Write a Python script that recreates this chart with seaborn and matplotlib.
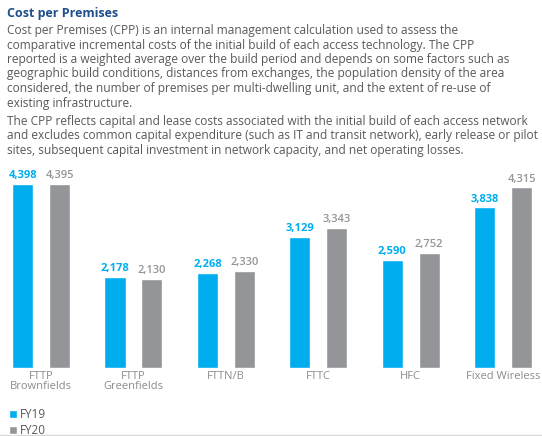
import matplotlib
matplotlib.use("Agg")
import matplotlib.pyplot as plt
from matplotlib.lines import Line2D
import seaborn as sns
import pandas as pd

# chart data
technologies = ["FTTP\nBrownfields", "FTTP\nGreenfields", "FTTN/B", "FTTC", "HFC", "Fixed Wireless"]
fy19 = [4398, 2178, 2268, 3129, 2590, 3838]
fy20 = [4395, 2130, 2330, 3343, 2752, 4315]
years = ["FY19", "FY20"]

title = "Cost per Premises"
para1 = ("Cost per Premises (CPP) is an internal management calculation used to assess the\n"
         "comparative incremental costs of the initial build of each access technology. The CPP\n"
         "reported is a weighted average over the build period and depends on some factors such as\n"
         "geographic build conditions, distances from exchanges, the population density of the area\n"
         "considered, the number of premises per multi-dwelling unit, and the extent of re-use of\n"
         "existing infrastructure.")
para2 = ("The CPP reflects capital and lease costs associated with the initial build of each access network\n"
         "and excludes common capital expenditure (such as IT and transit network), early release or pilot\n"
         "sites, subsequent capital investment in network capacity, and net operating losses.")

BLUE = "#00AEEF"
GREY = "#939598"
TEXT = "#58595b"

df = pd.DataFrame({
    "tech": technologies * 2,
    "year": [years[0]] * len(fy19) + [years[1]] * len(fy20),
    "cpp": fy19 + fy20,
})

sns.set_theme(style="white")
plt.rcParams["font.family"] = ["Open Sans", "DejaVu Sans"]

W, H = 542, 436
fig = plt.figure(figsize=(W / 100, H / 100), dpi=100)

# text block
fig.text(7 / W, 1 - 13 / H, title, color="#1f4e8c", fontsize=9, fontweight="bold", va="center")
fig.text(7 / W, 1 - 24 / H, para1, color=TEXT, fontsize=8.6, va="top", linespacing=1.15)
fig.text(7 / W, 1 - 115 / H, para2, color=TEXT, fontsize=8.6, va="top", linespacing=1.15)

# bar axes: baseline at y=368 px, top at y=160 px
ax = fig.add_axes([0, (H - 368) / H, 1, 208 / H])
sns.barplot(data=df, x="tech", y="cpp", hue="year", palette=[BLUE, GREY],
            width=0.8, gap=0.43, saturation=1, ax=ax, legend=True)

ax.set_xlim(-0.444, 5.42)
ax.set_ylim(0, 4971)
ax.set_xlabel("")
ax.set_ylabel("")
ax.set_yticks([])
sns.despine(ax=ax, left=True, bottom=True)
ax.tick_params(axis="x", length=0, pad=2, labelsize=8, labelcolor="#8c8c8c")
for lbl in ax.get_xticklabels():
    lbl.set_linespacing(0.95)

for cont, col, wt in zip(ax.containers, [BLUE, GREY], ["bold", "semibold"]):
    ax.bar_label(cont, labels=[f"{v:,.0f}" for v in cont.datavalues],
                 padding=2, color=col, fontsize=8, fontweight=wt)

handles, labels = ax.get_legend_handles_labels()
ax.get_legend().remove()
fig.legend(handles, labels, loc="lower left", bbox_to_anchor=(2 / W, -8 / H), frameon=False,
           handlelength=0.65, handleheight=0.65, handletextpad=0.3, labelspacing=0.25,
           fontsize=8.5, labelcolor=TEXT, borderaxespad=0.2)

fig.add_artist(Line2D([0, 1], [1 - 435 / H] * 2, color="#d9d9d9", lw=1))

fig.savefig("out.png", dpi=100)
